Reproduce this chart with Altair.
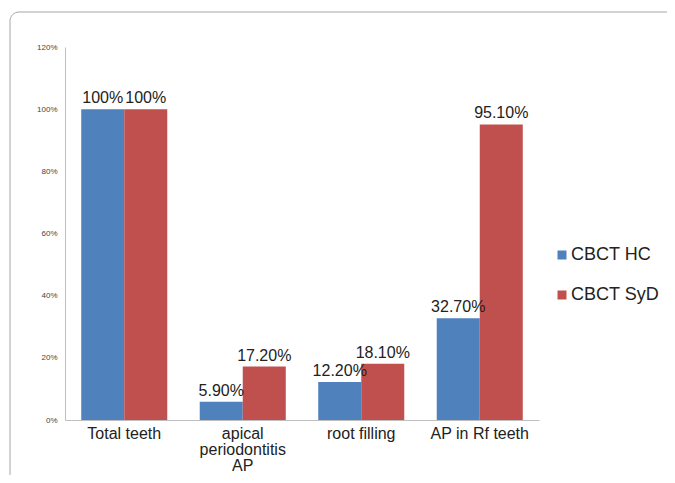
import altair as alt
import pandas as pd

categories = ["Total teeth", "apical periodontitis AP", "root filling", "AP in Rf teeth"]
series = ["CBCT HC", "CBCT SyD"]
hc_values = [100, 5.9, 12.2, 32.7]
syd_values = [100, 17.2, 18.1, 95.1]
hc_labels = ["100%", "5.90%", "12.20%", "32.70%"]
syd_labels = ["100%", "17.20%", "18.10%", "95.10%"]
y_ticks = [0, 20, 40, 60, 80, 100, 120]
colors = ["#4F81BD", "#C0504D"]

rows = []
for c, v, l in zip(categories, hc_values, hc_labels):
    rows.append({"cat": c, "series": series[0], "value": v, "label": l})
for c, v, l in zip(categories, syd_values, syd_labels):
    rows.append({"cat": c, "series": series[1], "value": v, "label": l})
df = pd.DataFrame(rows)

FONT = "Liberation Sans"

x_enc = alt.X(
    "cat:N",
    sort=categories,
    scale=alt.Scale(paddingInner=0.274, paddingOuter=0.137),
    axis=alt.Axis(
        title=None,
        labelAngle=0,
        labelFontSize=16,
        labelFont=FONT,
        labelColor="#222222",
        labelPadding=5,
        labelLineHeight=16,
        labelExpr="datum.label == 'apical periodontitis AP' ? ['apical', 'periodontitis', 'AP'] : datum.label",
        ticks=False,
        domainColor="#BFBFBF",
        domainWidth=1,
        labelLimit=0,
    ),
)
y_enc = alt.Y(
    "value:Q",
    scale=alt.Scale(domain=[0, 120], nice=False),
    axis=alt.Axis(
        title=None,
        values=y_ticks,
        labelExpr="datum.value + '%'",
        labelFontSize=8,
        labelFont=FONT,
        labelColor="#444444",
        labelPadding=8,
        ticks=False,
        grid=False,
        domainColor="#BFBFBF",
        domainWidth=1,
    ),
)
xoff = alt.XOffset("series:N", sort=series, scale=alt.Scale(paddingInner=0, paddingOuter=0))
color_enc = alt.Color(
    "series:N",
    sort=series,
    scale=alt.Scale(domain=series, range=colors),
    legend=alt.Legend(
        title=None,
        orient="none",
        legendX=488,
        legendY=199,
        symbolType="square",
        symbolSize=81,
        symbolStrokeWidth=0,
        labelFontSize=18,
        labelFont=FONT,
        labelColor="#222222",
        labelOffset=0,
        rowPadding=22,
    ),
)

bars = alt.Chart(df).mark_bar().encode(x=x_enc, y=y_enc, xOffset=xoff, color=color_enc)
texts = alt.Chart(df).mark_text(
    font=FONT, fontSize=16, color="#222222", baseline="alphabetic", dy=-6
).encode(x=x_enc, y=y_enc, xOffset=xoff, text="label:N")

frame = alt.Chart(pd.DataFrame({"f": [0]})).mark_rect(
    fill=None, stroke="#A6A6A6", strokeWidth=1, cornerRadius=9, clip=False
).encode(
    x=alt.value(-55), x2=alt.value(900), y=alt.value(-35), y2=alt.value(700)
)

chart = alt.layer(frame, bars, texts).properties(
    width=474,
    height=373,
    autosize=alt.AutoSizeParams(type="none"),
    padding={"left": 57, "top": 39, "right": 128, "bottom": 55},
).configure(background="white").configure_view(stroke="transparent", strokeWidth=0)

chart.save("out.html", embed_options={"renderer": "svg", "actions": False})
